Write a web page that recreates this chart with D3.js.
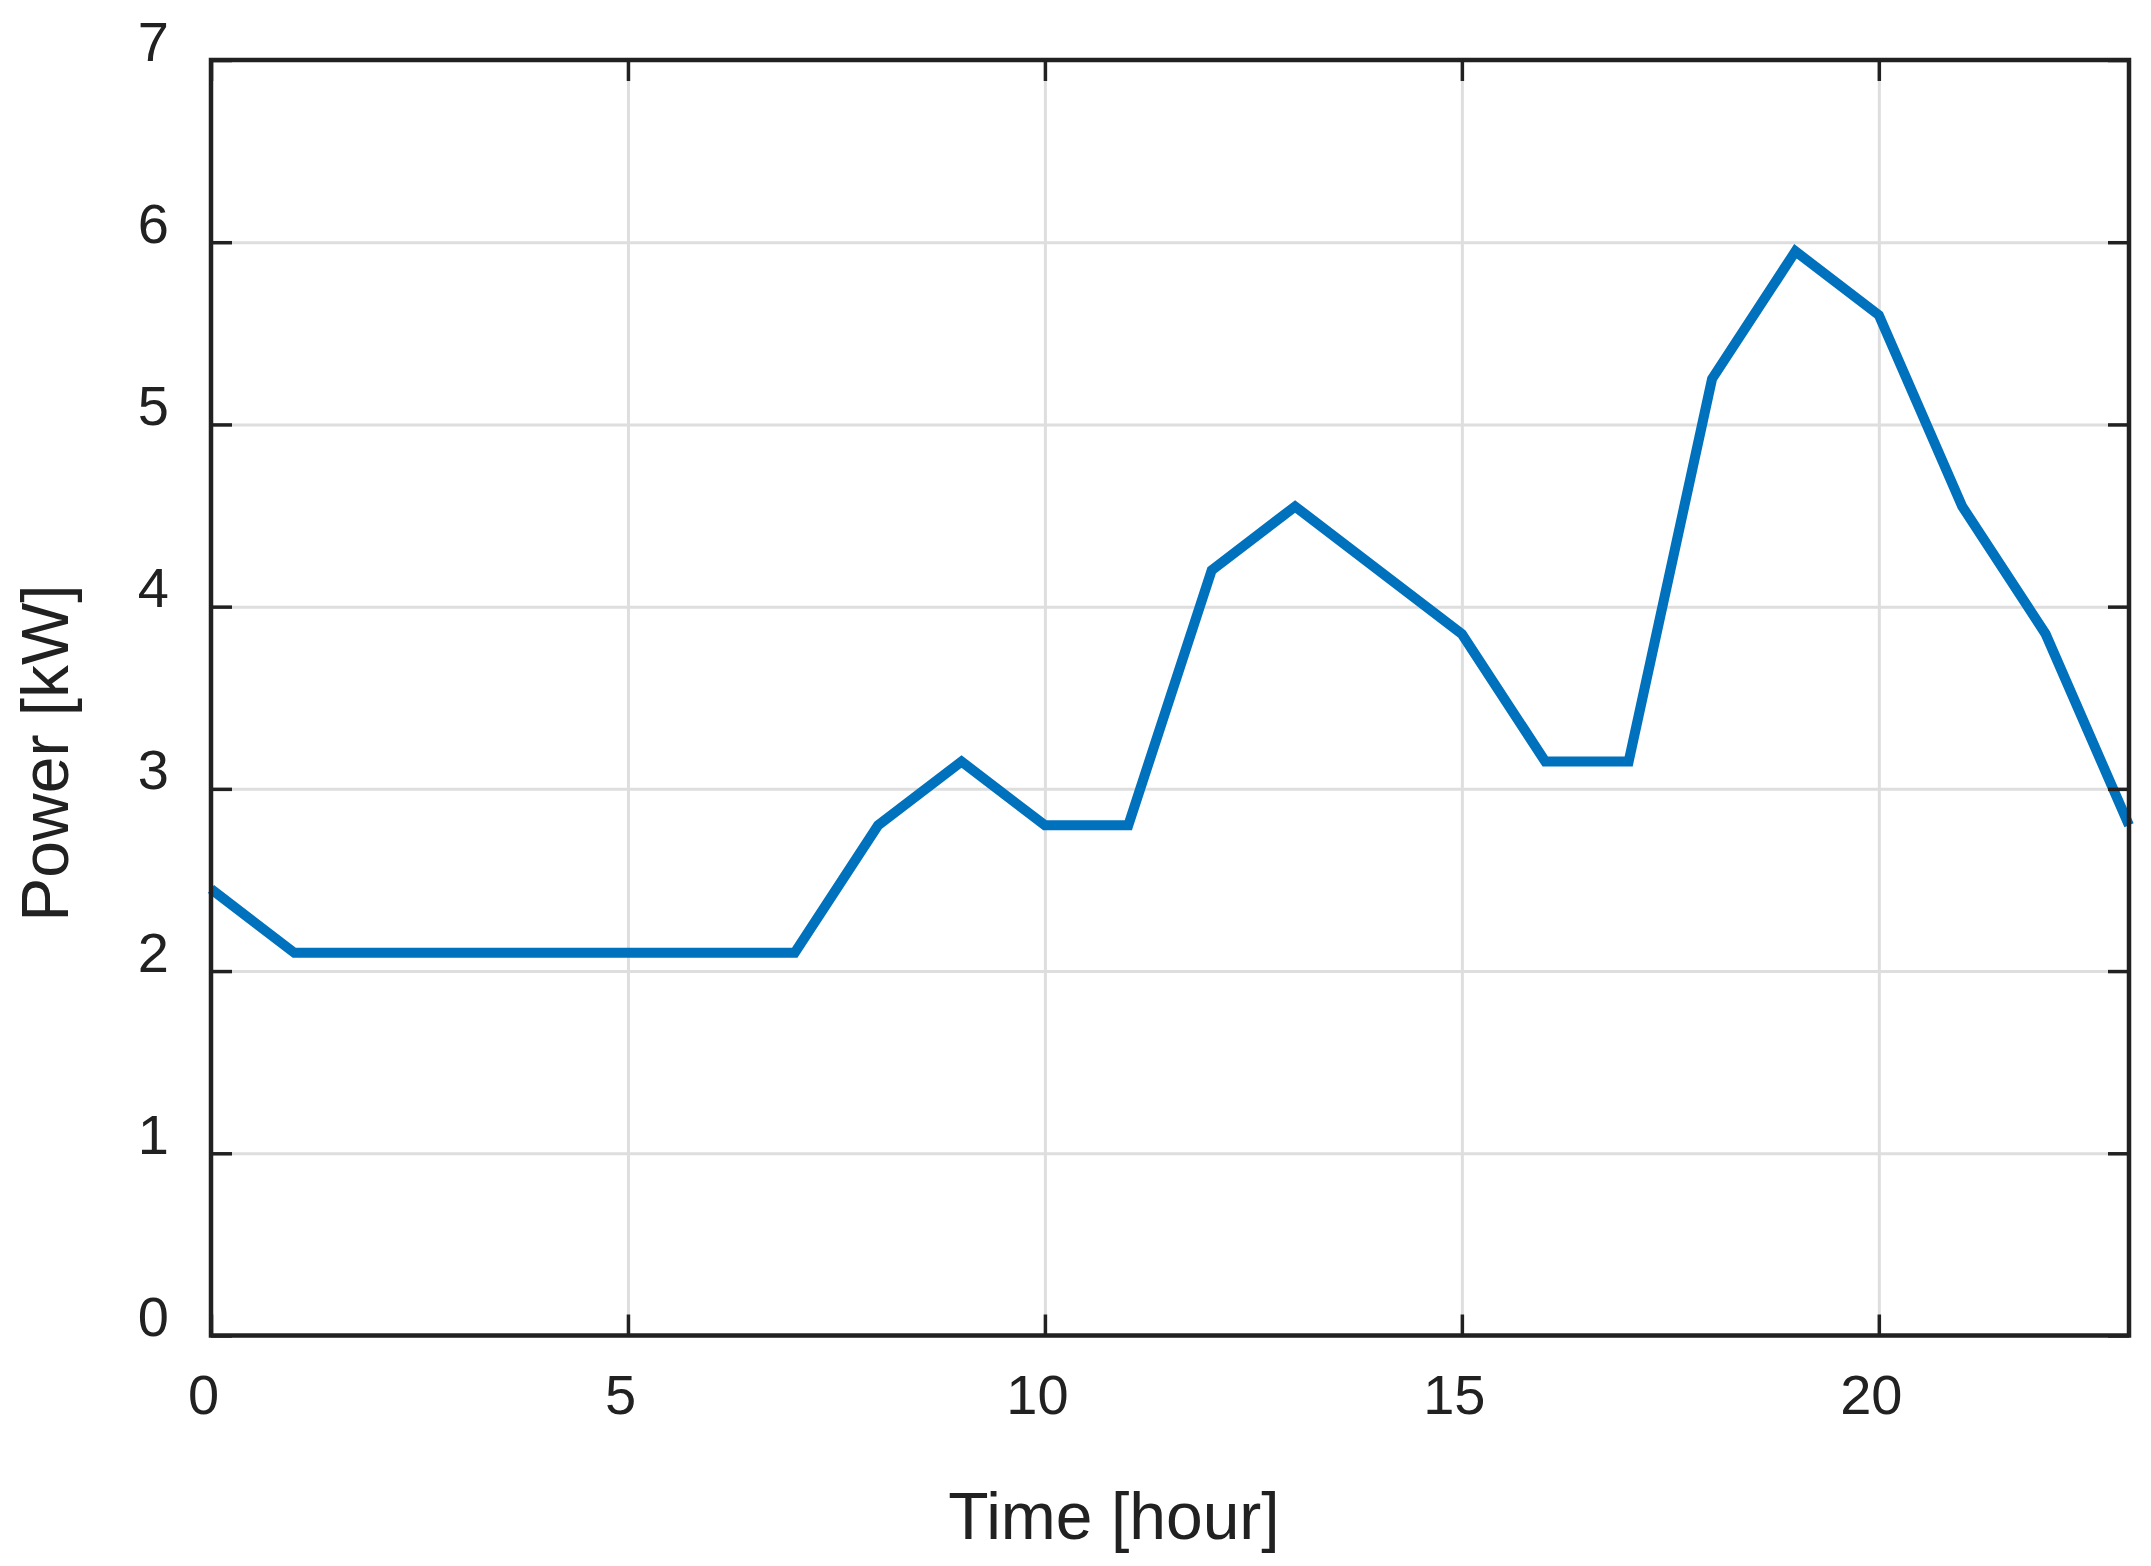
<!DOCTYPE html>
<html>
<head>
<meta charset="utf-8">
<script src="https://cdn.jsdelivr.net/npm/d3@7"></script>
<style>
  body { margin: 0; background: #fff; }
  text { font-family: "Liberation Sans", Arial, sans-serif; fill: #212121; }
</style>
</head>
<body>
<div id="chart"></div>
<script>
// hourly power profile
const hours = d3.range(0, 24);
const power = [2.45, 2.1, 2.1, 2.1, 2.1, 2.1, 2.1, 2.1, 2.8, 3.15, 2.8, 2.8,
               4.2, 4.55, 4.2, 3.85, 3.15, 3.15, 5.25, 5.95, 5.6, 4.55, 3.85, 2.8];
const xTicks = [0, 5, 10, 15, 20];
const yTicks = [0, 1, 2, 3, 4, 5, 6, 7];

const W = 2151, H = 1566;
const margin = {left: 211, top: 60, right: 22, bottom: 230.5};
const width = W - margin.left - margin.right;
const height = H - margin.top - margin.bottom;
const ink = "#212121";

const svg = d3.select("#chart").append("svg")
  .attr("width", W)
  .attr("height", H);

const g = svg.append("g")
  .attr("transform", `translate(${margin.left}, ${margin.top})`);

const x = d3.scaleLinear().domain([0, 23]).range([0, width]);
const y = d3.scaleLinear().domain([0, 7]).range([height, 0]);

// gridlines
g.append("g")
  .attr("class", "grid")
  .attr("transform", `translate(0, ${height})`)
  .call(d3.axisBottom(x).tickValues(xTicks).tickSize(-height).tickFormat(""));
g.append("g")
  .attr("class", "grid")
  .call(d3.axisLeft(y).tickValues(yTicks).tickSize(-width).tickFormat(""));
g.selectAll(".grid .domain").remove();
g.selectAll(".grid line").attr("stroke", "#dedede").attr("stroke-width", 3);

// the line
const line = d3.line()
  .x((d, i) => x(hours[i]))
  .y(d => y(d));

g.append("path")
  .attr("d", line(power))
  .attr("fill", "none")
  .attr("stroke", "#0072BD")
  .attr("stroke-width", 10);

// axes, ticks pointing in on all sides
const tk = 21;
const fmt = d3.format("d");
const bottom = g.append("g")
  .attr("transform", `translate(0, ${height})`)
  .call(d3.axisBottom(x).tickValues(xTicks).tickFormat(fmt).tickSizeInner(-tk).tickSizeOuter(0).tickPadding(78));
const left = g.append("g")
  .call(d3.axisLeft(y).tickValues(yTicks).tickFormat(fmt).tickSizeInner(-tk).tickSizeOuter(0).tickPadding(42));
g.append("g")
  .call(d3.axisTop(x).tickValues(xTicks).tickSizeInner(-tk).tickSizeOuter(0).tickFormat(""));
g.append("g")
  .attr("transform", `translate(${width}, 0)`)
  .call(d3.axisRight(y).tickValues(yTicks).tickSizeInner(-tk).tickSizeOuter(0).tickFormat(""));

g.selectAll(".domain").remove();
g.selectAll(".tick line").filter(function() { return !this.closest(".grid"); })
  .attr("stroke", ink).attr("stroke-width", 3.5);

bottom.selectAll("text")
  .attr("dy", 0)
  .attr("x", -8)
  .style("font-size", "56px")
  .attr("fill", ink);
left.selectAll("text")
  .attr("dy", 0)
  .style("font-size", "56px")
  .attr("fill", ink);

// box
g.append("rect")
  .attr("width", width)
  .attr("height", height)
  .attr("fill", "none")
  .attr("stroke", ink)
  .attr("stroke-width", 4.5);

// axis titles
svg.append("text")
  .attr("x", 1114)
  .attr("y", 1539)
  .attr("text-anchor", "middle")
  .style("font-size", "66px")
  .text("Time [hour]");

svg.append("text")
  .attr("transform", "translate(68, 753) rotate(-90)")
  .attr("text-anchor", "middle")
  .style("font-size", "66px")
  .text("Power [kW]");
</script>
</body>
</html>
